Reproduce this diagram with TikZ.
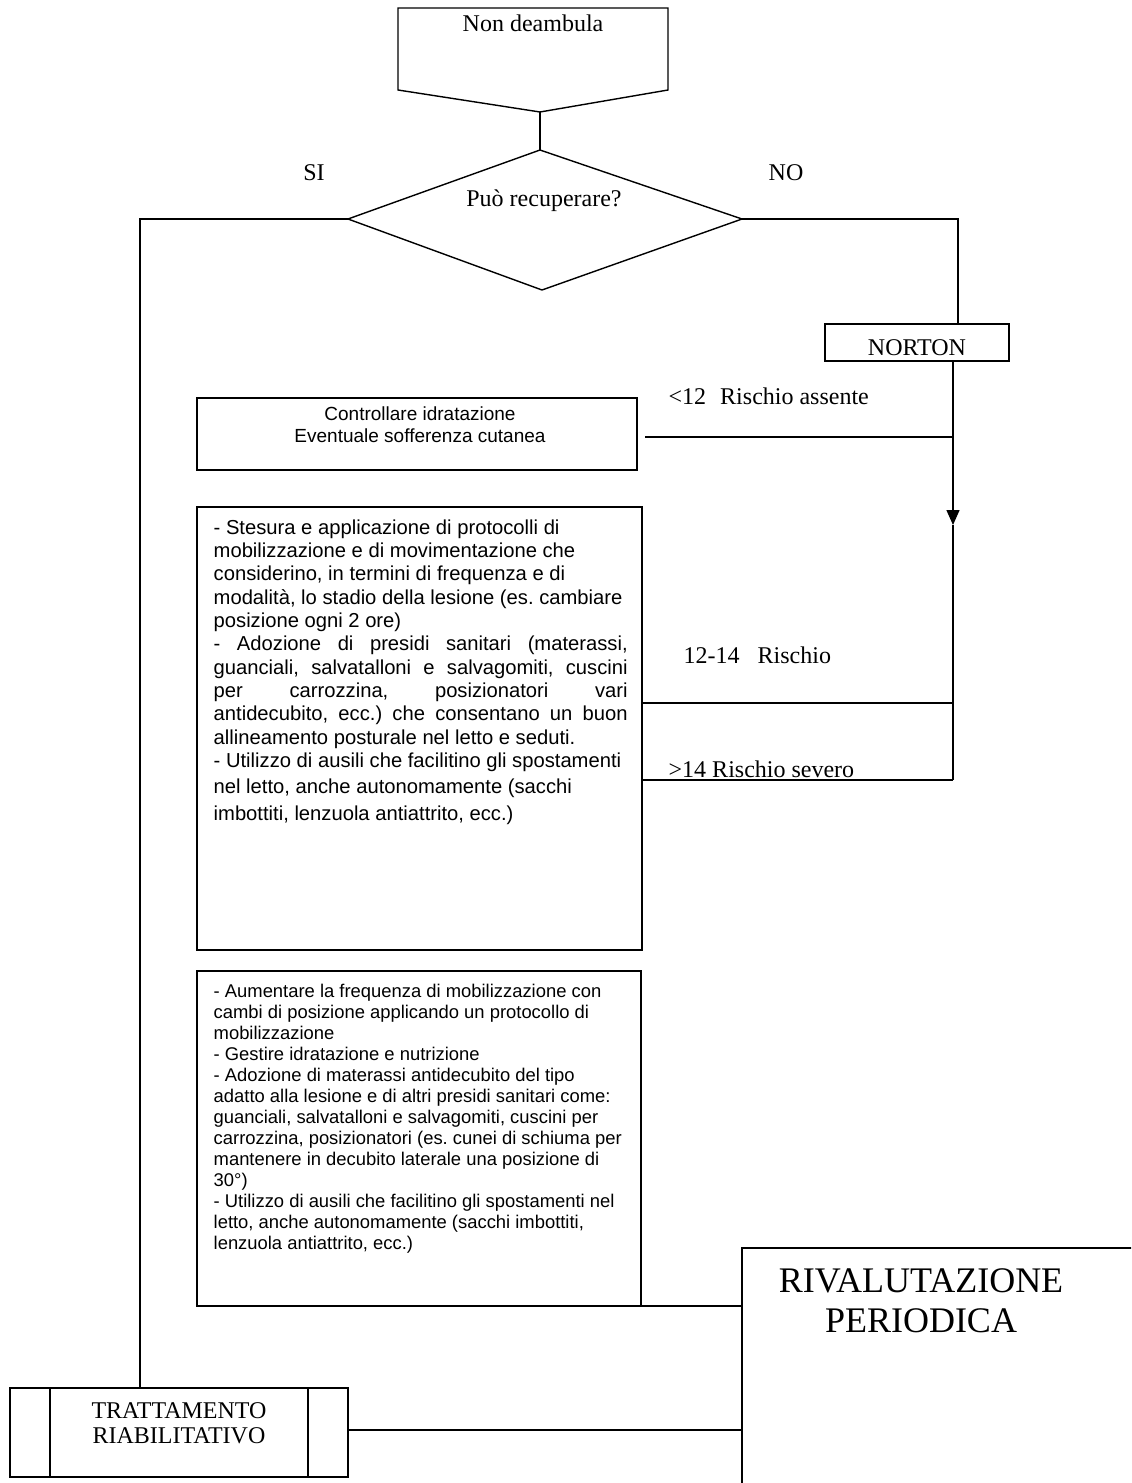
\documentclass[tikz,border=0pt]{standalone}
\usepackage{fontspec}
\setmainfont{Liberation Serif}
\newfontfamily\arialfont{Liberation Sans}
\usetikzlibrary{arrows.meta}
\frenchspacing
\begin{document}
\begin{tikzpicture}[x=0.5pt, y=-0.5pt, line width=0.7pt,
  every node/.style={inner sep=0pt},
  lbl/.style={font=\fontsize{12}{14}\selectfont, anchor=base},
  rlbl/.style={lbl, anchor=base west},
  txt/.style={anchor=base west, font=\arialfont}]
  \useasboundingbox (0,0) rectangle (1131,1483);
  \clip (0,0) rectangle (1131,1483);
  % top box and decision
  \coordinate (A) at (398,8); \coordinate (B) at (668,8);
  \coordinate (C) at (668,90); \coordinate (D) at (540,112);
  \coordinate (E) at (398,90);
  \draw (A)--(B)--(C)--(D)--(E)--cycle;
  \node[lbl] at (533,32) {Non deambula};
  \coordinate (dT) at (540,150); \coordinate (dR) at (742,219);
  \coordinate (dB) at (542,290); \coordinate (dL) at (348,219);
  \draw (dT)--(dR)--(dB)--(dL)--cycle;
  \draw (D)--(dT);
  \node[lbl] at (544,206) {Può recuperare?};
  \node[lbl] at (314,180) {SI};
  \node[lbl] at (786,180) {NO};
  % NORTON
  \coordinate (N1) at (825,324); \coordinate (N2) at (1009,361);
  \draw (N1) rectangle (N2);
  \node[lbl] at (917,355) {NORTON};
  \coordinate (nIn) at (958,324); \coordinate (nOut) at (953,361);
  \coordinate (R1) at (958,219);
  \draw (dR)--(R1)--(nIn);
  \coordinate (J1) at (953,437); \coordinate (J2) at (953,525);
  \coordinate (J3) at (953,703); \coordinate (J4) at (953,780);
  \draw[-{Triangle[length=7.5pt,width=6.5pt]}] (nOut)--(J2);
  \draw (J2)--(J4);
  % risk classes
  \node[rlbl] at (668,404) {<12\hspace{7pt}Rischio assente};
  \node[rlbl] at (683,663) {12-14\ \ \ Rischio};
  \node[rlbl] at (668,777) {>14 Rischio severo};
  % box <12
  \coordinate (K1) at (197,398); \coordinate (K2) at (637,470);
  \draw (K1) rectangle (K2);
  \node[txt, anchor=base] at (420,420) {\parbox[t]{220pt}{\centering
    \fontsize{9.5}{11}\selectfont Controllare idratazione\\
    Eventuale sofferenza cutanea}};
  \draw (J1)--(645,437);
  % box 12-14
  \coordinate (L1) at (197,507); \coordinate (L2) at (642,950);
  \draw (L1) rectangle (L2);
  \node[txt] at (213,534) {\parbox[t]{207pt}{\fontsize{10.1}{11.67}\selectfont
    - Stesura e applicazione di protocolli di\\
    mobilizzazione e di movimentazione che\\
    considerino, in termini di frequenza e di\\
    modalità, lo stadio della lesione (es. cambiare\\
    posizione ogni 2 ore)\\
    - Adozione di presidi sanitari (materassi,\linebreak
    guanciali, salvatalloni e salvagomiti, cuscini\linebreak
    per carrozzina, posizionatori vari\linebreak
    antidecubito, ecc.) che consentano un buon\linebreak
    allineamento posturale nel letto e seduti.\\
    - Utilizzo di ausili che facilitino gli spostamenti\\[1.6pt]
    nel letto, anche autonomamente (sacchi\\[1.6pt]
    imbottiti, lenzuola antiattrito, ecc.)}};
  \draw (J3)--(642,703);
  % box >14
  \coordinate (M1) at (197,971); \coordinate (M2) at (641,1306);
  \draw (M1) rectangle (M2);
  \node[txt] at (213,997) {\parbox[t]{220pt}{\raggedright\fontsize{9.2}{10.54}\selectfont
    - Aumentare la frequenza di mobilizzazione con\\
    cambi di posizione applicando un protocollo di\\
    mobilizzazione\\
    - Gestire idratazione e nutrizione\\
    - Adozione di materassi antidecubito del tipo\\
    adatto alla lesione e di altri presidi sanitari come:\\
    guanciali, salvatalloni e salvagomiti, cuscini per\\
    carrozzina, posizionatori (es. cunei di schiuma per\\
    mantenere in decubito laterale una posizione di\\
    30°)\\
    - Utilizzo di ausili che facilitino gli spostamenti nel\\
    letto, anche autonomamente (sacchi imbottiti,\\
    lenzuola antiattrito, ecc.)}};
  \draw (J4)--(641,780);
  % rivalutazione
  \coordinate (V1) at (742,1248);
  \draw (742,1500) -- (V1) -- (1140,1248);
  \node[lbl, font=\fontsize{18}{20}\selectfont] at (921,1292) {RIVALUTAZIONE};
  \node[lbl, font=\fontsize{18}{20}\selectfont] at (921,1332) {PERIODICA};
  \draw (M2)--(742,1306);
  % trattamento
  \coordinate (T1) at (10,1388); \coordinate (T2) at (348,1477);
  \draw (T1) rectangle (T2);
  \draw (50,1388)--(50,1477); \draw (308,1388)--(308,1477);
  \node[lbl] at (179,1418) {TRATTAMENTO};
  \node[lbl] at (179,1443.5) {RIABILITATIVO};
  \coordinate (S1) at (140,219); \coordinate (S2) at (140,1388);
  \draw (dL)--(S1)--(S2);
  \draw (348,1430)--(742,1430);
\end{tikzpicture}
\end{document}
